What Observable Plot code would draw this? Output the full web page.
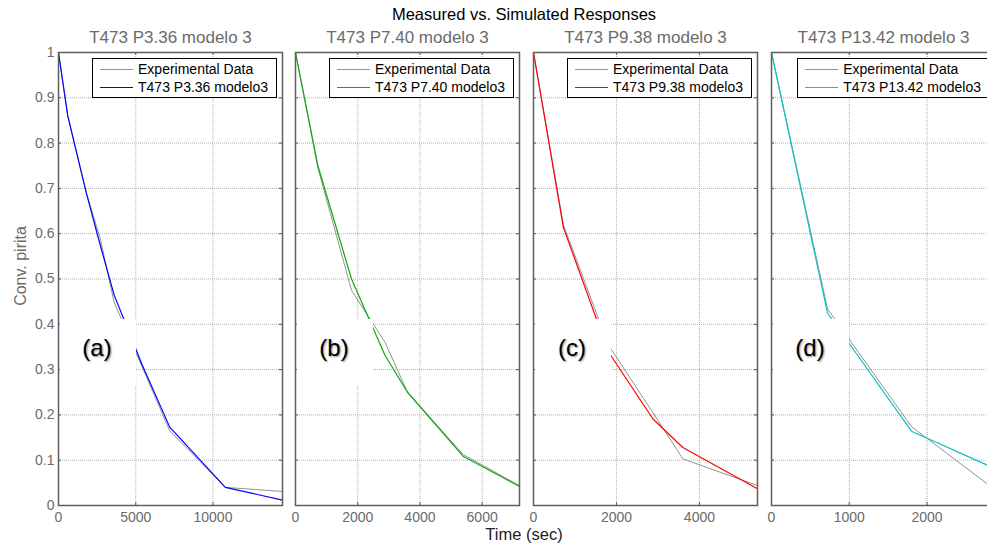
<!DOCTYPE html>
<html><head><meta charset="utf-8">
<script src="https://cdn.jsdelivr.net/npm/d3@7"></script>
<script src="https://cdn.jsdelivr.net/npm/@observablehq/plot@0.6"></script>
<style>
html,body{margin:0;padding:0;background:#fff;overflow:hidden;width:987px;height:549px;}
#wrap{position:relative;width:1100px;height:549px;font-family:"Liberation Sans",Arial,Helvetica,sans-serif;}
#wrap > svg{position:absolute;top:0;max-width:none;}
.txt{position:absolute;white-space:nowrap;line-height:1;}
.legend{position:absolute;top:58px;background:#fff;border:1px solid #000;padding:1px 8px 1px 7px;font-size:14px;color:#000;}
.legend .row{display:flex;align-items:center;height:18px;white-space:nowrap;}
.legend .ln{display:block;width:33px;height:1px;margin-right:5px;flex:none;}
.labbox{position:absolute;background:#fff;}
.lab{position:absolute;font-size:24px;line-height:1;color:#000;transform:translate(-50%,-50%);text-shadow:1px 1px 2px rgba(0,0,0,0.45);}
</style></head><body><div id="wrap"></div>
<script>
// ---- data ----
const yTicks = [0, 0.1, 0.2, 0.3, 0.4, 0.5, 0.6, 0.7, 0.8, 0.9, 1];

const titles = ["T473 P3.36 modelo 3", "T473 P7.40 modelo 3", "T473 P9.38 modelo 3", "T473 P13.42 modelo 3"];
const seriesNames = ["T473 P3.36 modelo3", "T473 P7.40 modelo3", "T473 P9.38 modelo3", "T473 P13.42 modelo3"];
const panelLabels = ["(a)", "(b)", "(c)", "(d)"];
const simColors = ["#0000ff", "#10a810", "#ff0000", "#12c0c0"];

const xTicksA = [0, 5000, 10000];
const xTicksB = [0, 2000, 4000, 6000];
const xTicksC = [0, 2000, 4000];
const xTicksD = [0, 1000, 2000];

const timeA = [0, 600, 1800, 2700, 3600, 5400, 7200, 10800, 14500];
const expA  = [1, 0.86, 0.69, 0.59, 0.449, 0.307, 0.165, 0.04, 0.031];
const simA  = [1, 0.86, 0.69, 0.575, 0.465, 0.312, 0.173, 0.04, 0.012];

const timeB = [0, 720, 1800, 2880, 3600, 5400, 7200];
const expB  = [1, 0.745, 0.475, 0.36, 0.25, 0.112, 0.044];
const simB  = [1, 0.75, 0.50, 0.331, 0.25, 0.108, 0.042];

const timeC = [0, 720, 1800, 2880, 3600, 5400];
const expC  = [1, 0.62, 0.355, 0.205, 0.103, 0.044];
const simC  = [1, 0.614, 0.34, 0.191, 0.128, 0.037];

const timeD = [0, 720, 1800, 2880];
const expD  = [1, 0.434, 0.174, 0.034];
const simD  = [1, 0.425, 0.164, 0.081];

const times = [timeA, timeB, timeC, timeD];
const exps = [expA, expB, expC, expD];
const sims = [simA, simB, simC, simD];
const xTicksAll = [xTicksA, xTicksB, xTicksC, xTicksD];

// ---- layout ----
const W = 1100;
const axisLefts = [58, 295, 533, 771];
const PW = 224, PH = 453, MT = 52, MB = 44;
const gray = "#6b6b6b";
const expColor = "#939393";
const wrap = document.getElementById("wrap");

function add(el){ wrap.appendChild(el); return el; }

for (let i = 0; i < 4; i++) {
  const ml = i === 0 ? 58 : 12, mr = 12;
  const t = times[i];
  const expData = t.map((x, j) => ({t: x, v: exps[i][j]}));
  const simData = t.map((x, j) => ({t: x, v: sims[i][j]}));
  const xt = xTicksAll[i];
  const xmax = d3.max(t);
  const marks = [
    Plot.gridY(yTicks.filter(v => v > 0 && v < 1), {stroke: "#b0b0b0", strokeOpacity: 1, strokeDasharray: "1,1"}),
    Plot.gridX(xt.filter(v => v > 0 && v < xmax), {stroke: "#b0b0b0", strokeOpacity: 1, strokeDasharray: "1,1"}),
    Plot.line(expData, {x: "t", y: "v", stroke: expColor, strokeWidth: 1}),
    Plot.line(simData, {x: "t", y: "v", stroke: simColors[i], strokeWidth: 1.2}),
    Plot.tickY(yTicks, {y: d => d, insetRight: PW - 3, stroke: "#555"}),
    Plot.tickY(yTicks, {y: d => d, insetLeft: PW - 3, stroke: "#555"}),
    Plot.tickX(xt, {x: d => d, insetTop: PH - 3, stroke: "#555"}),
    Plot.tickX(xt, {x: d => d, insetBottom: PH - 3, stroke: "#555"}),
    Plot.frame({stroke: "#5e5e5e", strokeWidth: 1.5}),
    Plot.axisX(xt, {tickSize: 0, tickPadding: 7, tickFormat: d => String(d), fill: gray, label: null}),
    Plot.text([titles[i]], {text: d => d, frameAnchor: "top", lineAnchor: "bottom", dy: -10, fontSize: 17, fill: gray})
  ];
  if (i === 0) {
    marks.push(Plot.axisY(yTicks, {tickSize: 0, tickPadding: 4, tickFormat: d => String(d), fill: gray, label: null}));
    marks.push(Plot.text(["Conv. pirita"], {text: d => d, frameAnchor: "left", textAnchor: "middle", rotate: -90, dx: -38, dy: -13, fontSize: 16, fill: gray}));
  }
  const svg = Plot.plot({
    width: PW + ml + mr,
    height: MT + PH + MB,
    marginLeft: ml, marginRight: mr, marginTop: MT, marginBottom: MB,
    x: {domain: [0, xmax]},
    y: {domain: [0, 1], axis: i === 0 ? undefined : null},
    style: {fontSize: "14px", fontFamily: "'Liberation Sans', Arial, sans-serif", background: "transparent", overflow: "visible", color: gray},
    marks
  });
  svg.style.left = (axisLefts[i] - ml) + "px";
  add(svg);
}

// label boxes (white patches with panel letters)
for (let i = 0; i < 4; i++) {
  const box = document.createElement("div");
  box.className = "labbox";
  box.style.left = (axisLefts[i] + 1.5) + "px";
  box.style.top = "319px";
  box.style.width = "76px";
  box.style.height = "67px";
  add(box);
  const lab = document.createElement("div");
  lab.className = "lab";
  lab.textContent = panelLabels[i];
  lab.style.left = (axisLefts[i] + 39) + "px";
  lab.style.top = "348px";
  add(lab);
}

// legends
for (let i = 0; i < 4; i++) {
  const lg = document.createElement("div");
  lg.className = "legend";
  lg.style.right = (W - (axisLefts[i] + PW - 5)) + "px";
  const rows = [["Experimental Data", expColor], [seriesNames[i], simColors[i]]];
  for (const [name, col] of rows) {
    const r = document.createElement("div");
    r.className = "row";
    const ln = document.createElement("span");
    ln.className = "ln";
    ln.style.background = col;
    const tx = document.createElement("span");
    tx.textContent = name;
    r.appendChild(ln); r.appendChild(tx);
    lg.appendChild(r);
  }
  add(lg);
}

// overall title and x label
const title = add(document.createElement("div"));
title.className = "txt";
title.textContent = "Measured vs. Simulated Responses";
title.style.cssText += "left:524px;top:6px;font-size:16.5px;color:#000;transform:translateX(-50%);";

const xl = add(document.createElement("div"));
xl.className = "txt";
xl.textContent = "Time (sec)";
xl.style.cssText += "left:524px;top:526px;font-size:16.5px;color:#222;transform:translateX(-50%);";
</script></body></html>
